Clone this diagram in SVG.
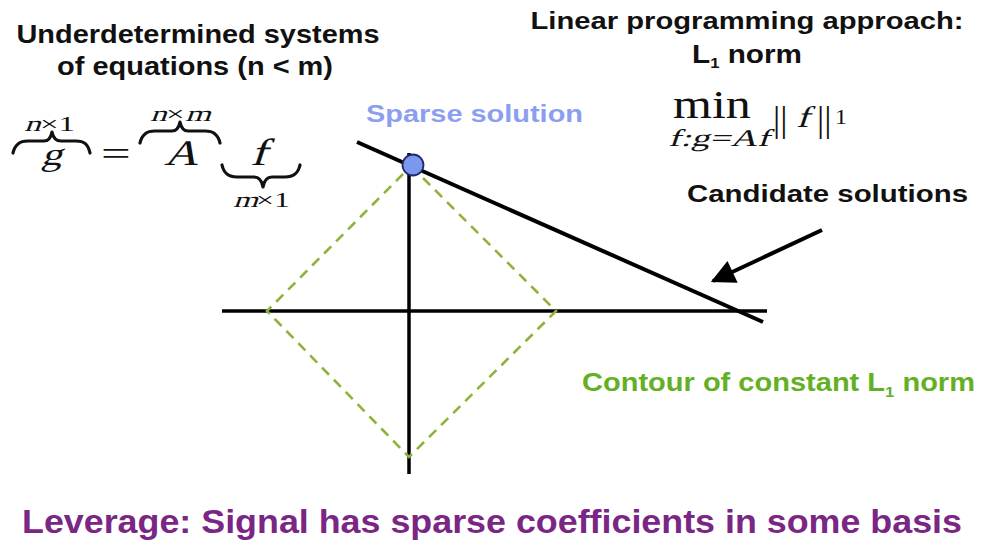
<svg xmlns="http://www.w3.org/2000/svg" width="982" height="550" viewBox="0 0 982 550">
<style>
.h{font-family:"Liberation Sans",Arial,sans-serif;font-weight:bold;fill:#111}
.m{font-family:"Liberation Serif","Times New Roman",serif;fill:#111}
.ax{stroke:#000;stroke-width:3.5;fill:none;stroke-linecap:butt}
.br{stroke:#111;stroke-width:3.2;fill:none;stroke-linecap:round;stroke-linejoin:round}
</style>
<defs>
<marker id="ah" viewBox="0 0 10 10" refX="9" refY="5" markerWidth="7.5" markerHeight="6" markerUnits="strokeWidth" orient="auto">
<path d="M0,0 L10,5 L0,10 z" fill="#000"/>
</marker>
</defs>
<rect width="982" height="550" fill="#fff"/>

<g id="title-left">
<text class="h" x="198" y="43" font-size="25" text-anchor="middle" textLength="363" lengthAdjust="spacingAndGlyphs">Underdetermined systems</text>
<text class="h" x="195" y="75" font-size="25" text-anchor="middle" textLength="276" lengthAdjust="spacingAndGlyphs">of equations (n &lt; m)</text>
</g>

<g id="equation">
<path class="br" d="M13,153 C15,144 20,141 28,141 L44,141 C49,141 51,137 52,132 C53,137 56,141 61,141 L76,141 C84,141 88,144 90,153"/>
<path class="br" d="M140,143 C142,134 147,131 155,131 L172,131 C177,131 179,127 180,122 C181,127 183,131 188,131 L205,131 C213,131 218,134 220,143"/>
<path class="br" d="M222,165 C224,174 229,177 237,177 L254,177 C259,177 262,181 263,187 C264,181 267,177 272,177 L285,177 C293,177 298,174 300,165"/>
<g transform="translate(24,131) scale(1.5,1) skewX(-14)"><text class="m" font-size="22">n</text></g>
<g transform="translate(40,131) scale(1.5,1)"><text class="m" font-size="22">×1</text></g>
<g transform="translate(150,121) scale(1.5,1) skewX(-14)"><text class="m" font-size="22">n</text></g>
<g transform="translate(166,121) scale(1.5,1)"><text class="m" font-size="22">×</text></g>
<g transform="translate(185,121) scale(1.5,1) skewX(-14)"><text class="m" font-size="22">m</text></g>
<g transform="translate(233,207) scale(1.45,1) skewX(-14)"><text class="m" font-size="22">m</text></g>
<g transform="translate(256,207) scale(1.45,1)"><text class="m" font-size="22">×1</text></g>
<g transform="translate(41,165) scale(1.3,1) skewX(-14)"><text class="m" font-size="32">g</text></g>
<g transform="translate(101,165) scale(1.55,1)"><text class="m" font-size="34">=</text></g>
<g transform="translate(164,165) scale(1.3,1) skewX(-14)"><text class="m" font-size="36">A</text></g>
<g transform="translate(250,165) scale(1.3,1) skewX(-14)"><text class="m" font-size="38">f</text></g>
</g>

<g id="title-right">
<text class="h" x="747" y="29" font-size="24" text-anchor="middle" textLength="433" lengthAdjust="spacingAndGlyphs">Linear programming approach:</text>
<text class="h" x="692" y="63" font-size="25" textLength="110" lengthAdjust="spacingAndGlyphs">L<tspan font-size="14" dy="5">1</tspan><tspan dy="-5"> norm</tspan></text>
<g transform="translate(673,118) scale(1.25,1)"><text class="m" font-size="40">min</text></g>
<g transform="translate(668,146) scale(1.55,1) skewX(-12)"><text class="m" font-size="24">f:g=Af</text></g>
<g transform="translate(773,131) scale(1,1)"><text class="m" font-size="36">||</text></g>
<g transform="translate(796,127) scale(1.3,1) skewX(-14)"><text class="m" font-size="30">f</text></g>
<g transform="translate(817,131) scale(1,1)"><text class="m" font-size="36">||</text></g>
<g transform="translate(835,124) scale(1.2,1)"><text class="m" font-size="20">1</text></g>
</g>

<g id="axes">
<line class="ax" x1="222" y1="311" x2="767" y2="311"/>
<line class="ax" x1="409" y1="153" x2="409" y2="474"/>
</g>

<g id="contour">
<path d="M411,166 L556,311 L409,457 L267,311 Z" fill="none" stroke="#8fb23a" stroke-width="2.6" stroke-dasharray="10,7"/>
</g>

<g id="connectors">
<line x1="357" y1="142" x2="763" y2="322" stroke="#000" stroke-width="4"/>
<line x1="822" y1="230" x2="713" y2="281" stroke="#000" stroke-width="4" marker-end="url(#ah)"/>
</g>

<g id="sparse-solution">
<circle cx="413" cy="165" r="10.5" fill="#7b97ee" stroke="#1d2a6e" stroke-width="1.8"/>
<text class="h" x="366" y="122" font-size="23" style="fill:#8c9ef0" textLength="217" lengthAdjust="spacingAndGlyphs">Sparse solution</text>
</g>

<g id="candidate-solutions">
<text class="h" x="687" y="202" font-size="23" textLength="281" lengthAdjust="spacingAndGlyphs">Candidate solutions</text>
</g>

<g id="contour-label">
<text class="h" x="582" y="391" font-size="26" style="fill:#64b025" textLength="393" lengthAdjust="spacingAndGlyphs">Contour of constant L<tspan font-size="15" dy="6">1</tspan><tspan dy="-6"> norm</tspan></text>
</g>

<g id="leverage">
<text class="h" x="22" y="533" font-size="34" style="fill:#7a2684" textLength="940" lengthAdjust="spacingAndGlyphs">Leverage: Signal has sparse coefficients in some basis</text>
</g>
</svg>
